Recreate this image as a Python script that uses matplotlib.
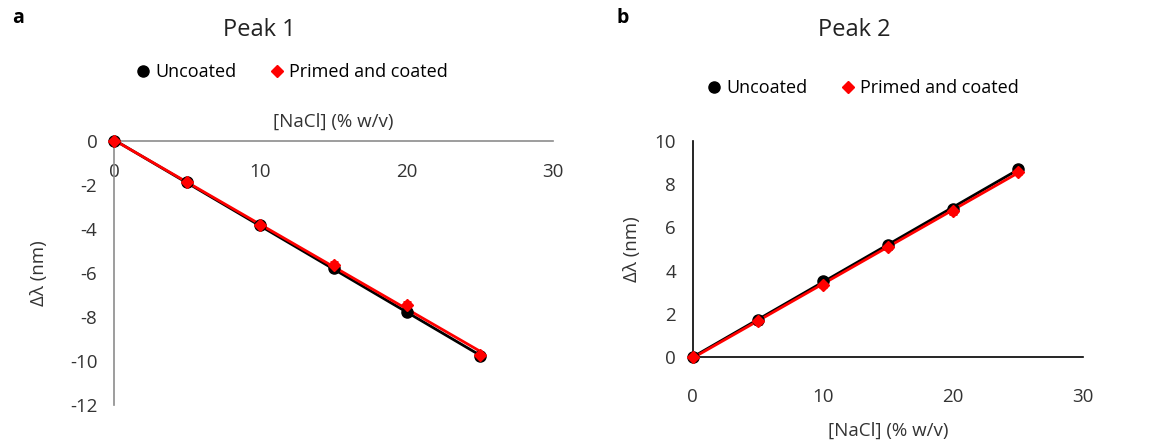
import numpy as np
import matplotlib
matplotlib.use('Agg')
import matplotlib.pyplot as plt
from matplotlib.lines import Line2D

plt.rcParams['font.family'] = ['Open Sans', 'DejaVu Sans']
plt.rcParams['axes.unicode_minus'] = False

nacl = [0, 5, 10, 15, 20, 25]

# Peak 1
p1_uncoated = [0, -1.88, -3.83, -5.78, -7.78, -9.77]
p1_uncoated_err = [0, 0.08, 0.08, 0.15, 0.15, 0.1]
p1_coated = [0, -1.88, -3.83, -5.62, -7.47, -9.72]
p1_coated_err = [0, 0.08, 0.08, 0.12, 0.15, 0.1]

# Peak 2
p2_uncoated = [0, 1.72, 3.5, 5.2, 6.85, 8.72]
p2_uncoated_err = [0, 0.1, 0.1, 0.1, 0.15, 0.12]
p2_coated = [0, 1.65, 3.35, 5.08, 6.76, 8.58]
p2_coated_err = [0, 0.1, 0.1, 0.1, 0.12, 0.1]

x_ticks = [0, 10, 20, 30]
p1_yticks = [0, -2, -4, -6, -8, -10, -12]
p2_yticks = [0, 2, 4, 6, 8, 10]


def draw_series(ax, x, y, err, color, marker, ms):
    ax.errorbar(x, y, yerr=err, fmt=marker, color=color, ms=ms,
                ecolor=color, elinewidth=1.5, capsize=3, capthick=2,
                zorder=3, clip_on=False)
    k, b = np.polyfit(x, y, 1)
    xs = np.array([min(x), max(x)])
    ax.plot(xs, k * xs + b, color=color, lw=2, zorder=2, clip_on=False)


fig = plt.figure(figsize=(11.72, 4.41), dpi=100)

# panel a
ax1 = fig.add_axes([114 / 1172, 1 - 405 / 441, (553 - 114) / 1172, (405 - 141) / 441])
draw_series(ax1, nacl, p1_uncoated, p1_uncoated_err, 'black', 'o', 8)
draw_series(ax1, nacl, p1_coated, p1_coated_err, 'red', 'D', 6)
ax1.set_xlim(0, 30)
ax1.set_ylim(-12, 0)
ax1.set_xticks(x_ticks)
ax1.set_yticks(p1_yticks)
ax1.spines['bottom'].set_position(('data', 0))
ax1.spines['top'].set_visible(False)
ax1.spines['right'].set_visible(False)
for s in ['bottom', 'left']:
    ax1.spines[s].set_color('#8c8c8c')
    ax1.spines[s].set_linewidth(1.2)
ax1.tick_params(length=0, labelsize=13.5, colors='#333333', pad=12)
ax1.tick_params(axis='x', pad=16)
ax1.xaxis.set_label_position('top')
ax1.set_xlabel('[NaCl] (% w/v)', fontsize=13.5, color='#333333', labelpad=10)
ax1.set_ylabel('Δλ (nm)', fontsize=13.5, color='#333333', labelpad=16)
ax1.patch.set_visible(False)

# panel b
ax2 = fig.add_axes([692.7 / 1172, 1 - 357 / 441, (1083 - 692.7) / 1172, (357 - 141) / 441])
draw_series(ax2, nacl, p2_uncoated, p2_uncoated_err, 'black', 'o', 8)
draw_series(ax2, nacl, p2_coated, p2_coated_err, 'red', 'D', 6)
ax2.set_xlim(0, 30)
ax2.set_ylim(0, 10)
ax2.set_xticks(x_ticks)
ax2.set_yticks(p2_yticks)
ax2.spines['top'].set_visible(False)
ax2.spines['right'].set_visible(False)
for s in ['bottom', 'left']:
    ax2.spines[s].set_color('black')
    ax2.spines[s].set_linewidth(1.2)
ax2.tick_params(length=0, labelsize=13.5, colors='#333333', pad=12)
ax2.tick_params(axis='x', pad=22)
ax2.set_xlabel('[NaCl] (% w/v)', fontsize=13.5, color='#333333', labelpad=12)
ax2.set_ylabel('Δλ (nm)', fontsize=13.5, color='#333333', labelpad=10)

# titles, legends, panel letters
fig.text(259 / 1172, 1 - 30 / 441, 'Peak 1', fontsize=17, ha='center', va='center', color='#222222')
fig.text(854 / 1172, 1 - 30 / 441, 'Peak 2', fontsize=17, ha='center', va='center', color='#222222')
fig.text(12 / 1172, 1 - 18 / 441, 'a', fontsize=14, fontweight='bold', ha='left', va='center')
fig.text(617 / 1172, 1 - 18 / 441, 'b', fontsize=14, fontweight='bold', ha='left', va='center')

handles = [Line2D([], [], ls='none', marker='o', color='black', ms=8),
           Line2D([], [], ls='none', marker='D', color='red', ms=6)]
labels = ['Uncoated', 'Primed and coated']
fig.legend(handles, labels, loc='center', bbox_to_anchor=(291 / 1172, 1 - 72 / 441),
           ncol=2, frameon=False, fontsize=13, handletextpad=0.2,
           columnspacing=1.7, handlelength=1.0)
fig.legend(handles, labels, loc='center', bbox_to_anchor=(862 / 1172, 1 - 88 / 441),
           ncol=2, frameon=False, fontsize=13, handletextpad=0.2,
           columnspacing=1.7, handlelength=1.0)

fig.savefig('out.png', dpi=100)
